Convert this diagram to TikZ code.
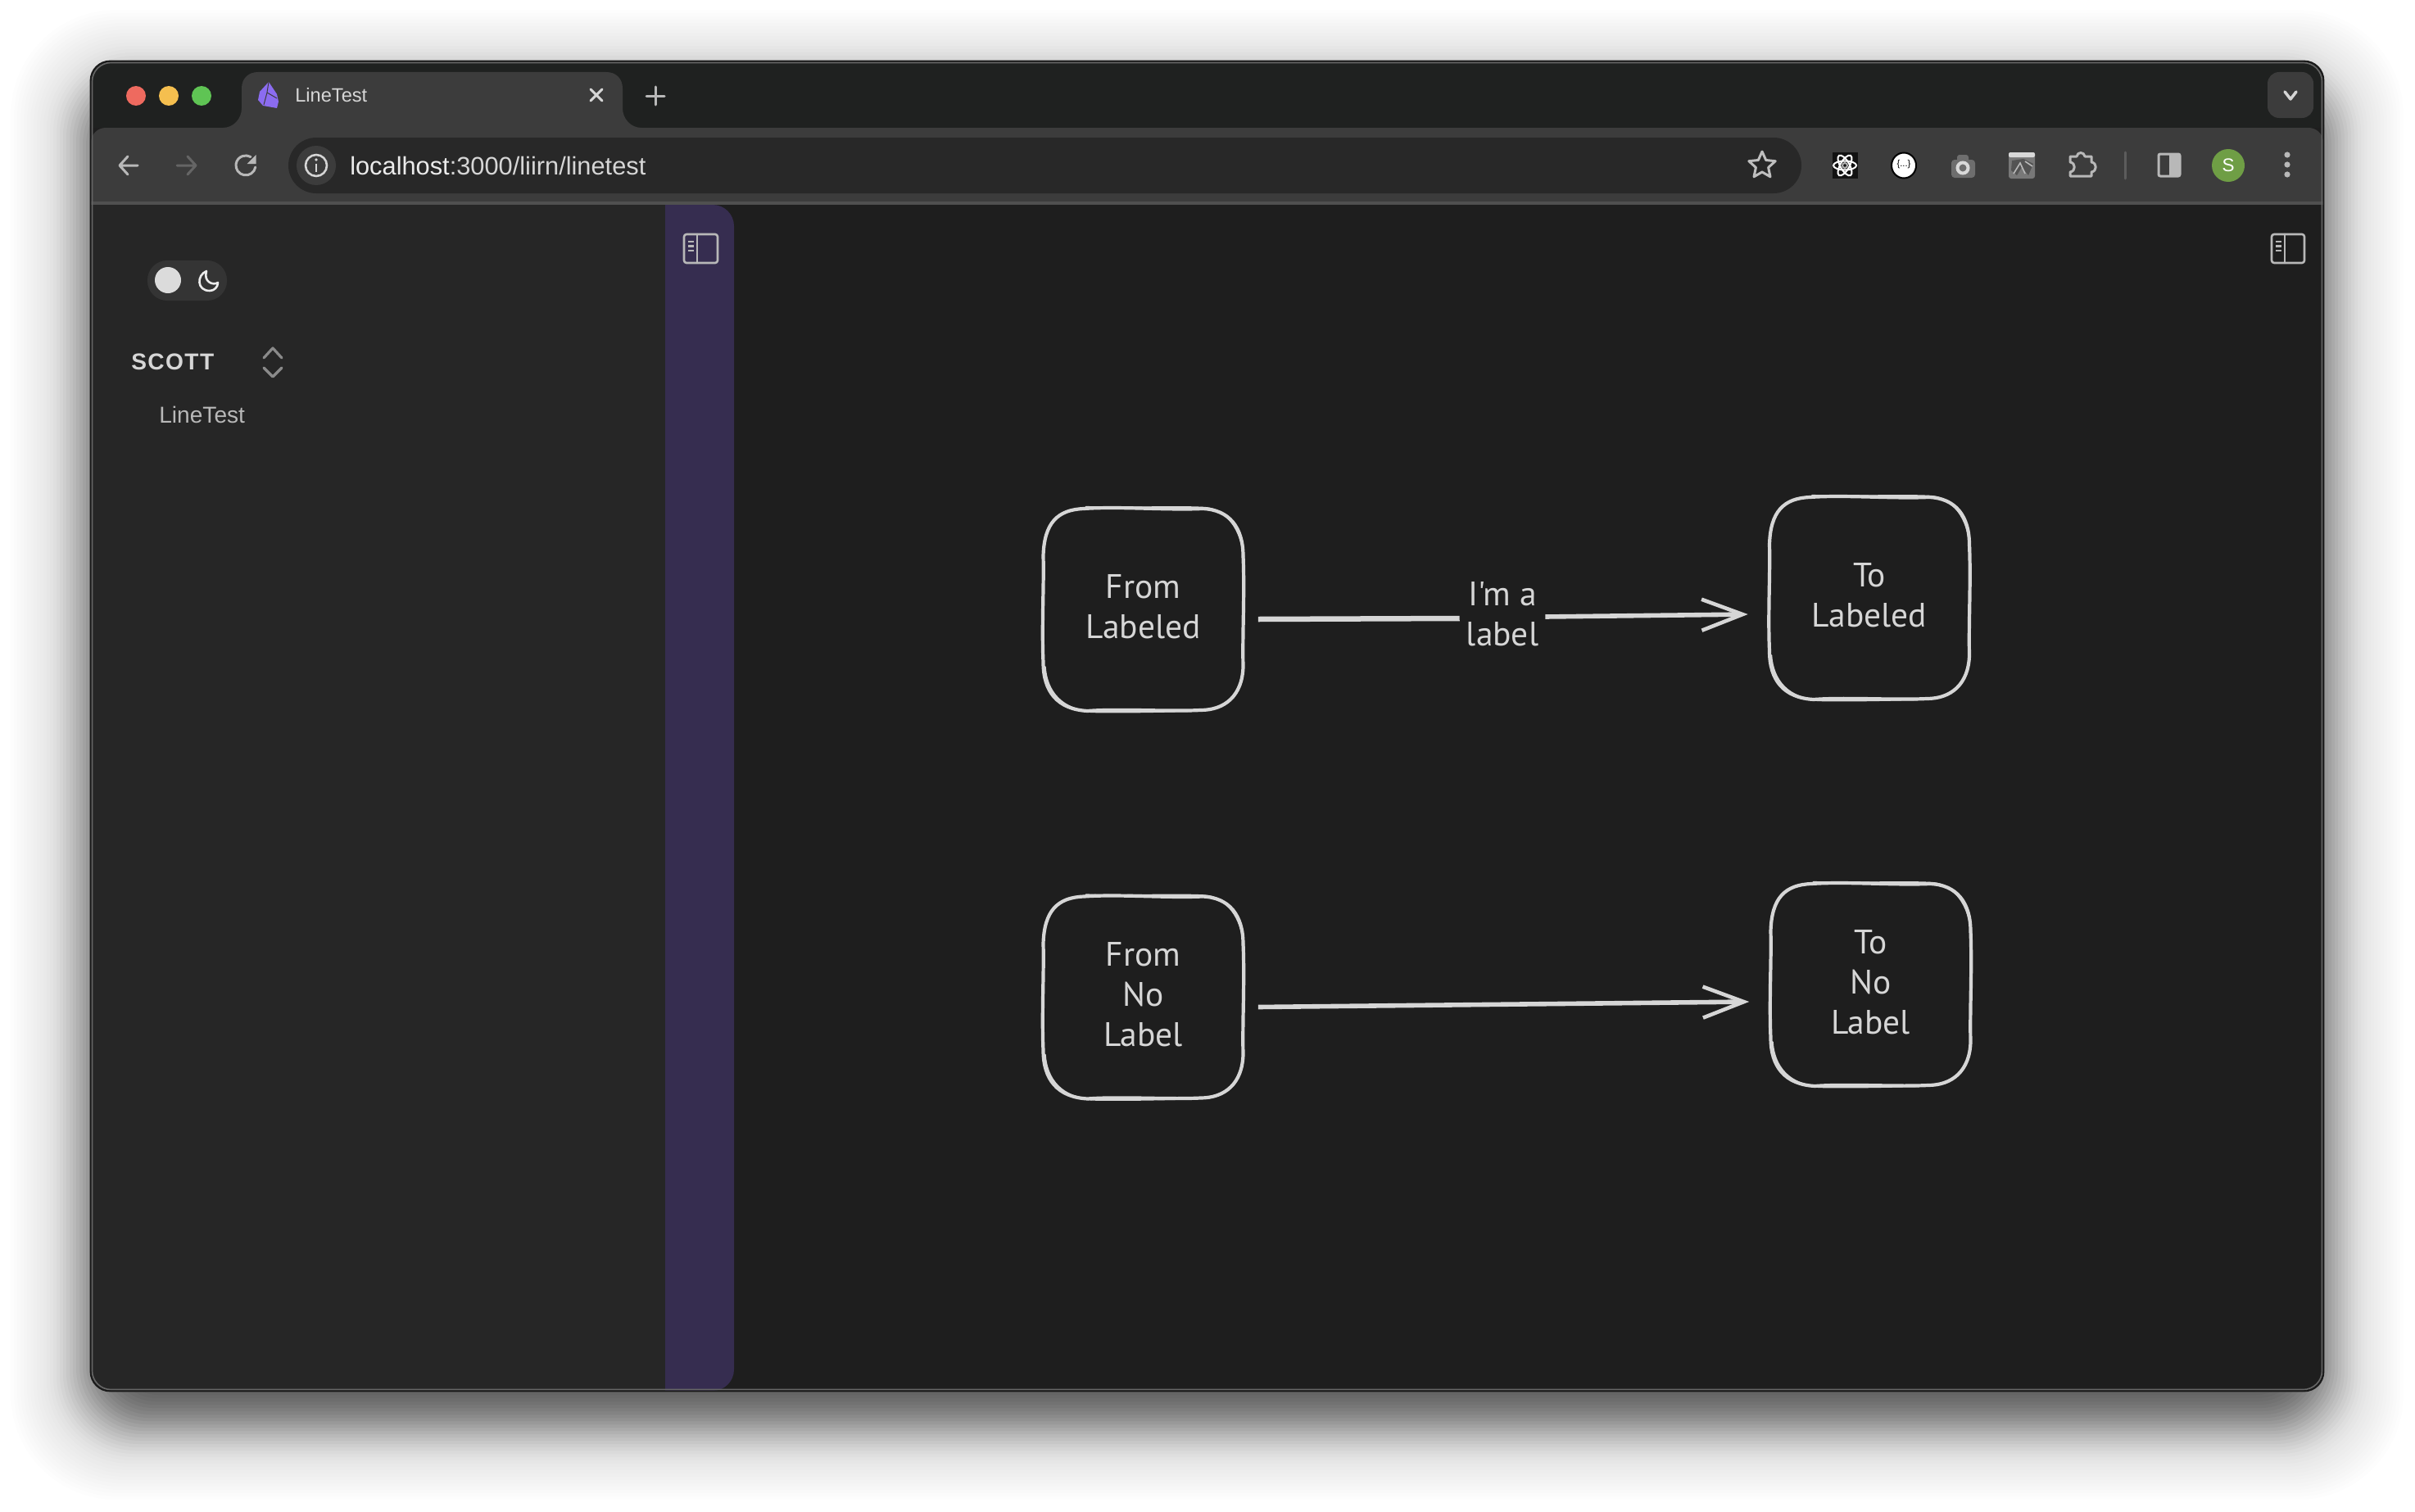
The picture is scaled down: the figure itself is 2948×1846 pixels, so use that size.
\documentclass[tikz,border=0pt]{standalone}
\usepackage{fontspec}
\setmainfont{Liberation Sans}
\newfontfamily\handfont{PT Sans}
\usetikzlibrary{arrows.meta,calc}
\definecolor{chromeTop}{HTML}{1F2120}
\definecolor{chromeBar}{HTML}{3C3C3C}
\definecolor{omni}{HTML}{282828}
\definecolor{sideBg}{HTML}{262626}
\definecolor{purpleBar}{HTML}{362D50}
\definecolor{mainBg}{HTML}{1E1E1E}
\definecolor{ink}{HTML}{D6D6D6}
\definecolor{iconGrey}{HTML}{B8B8B8}
\definecolor{redDot}{HTML}{EE6A5F}
\definecolor{yellowDot}{HTML}{F5BF4F}
\definecolor{greenDot}{HTML}{5FC454}
\definecolor{obsidian}{HTML}{8B6CF0}
\definecolor{avatar}{HTML}{6F9E45}
\def\px{0.25mm}
\tikzset{
  handtext/.style={text=ink,align=center,inner sep=0pt,font=\handfont\fontsize{29.5}{34.7}\selectfont},
  sketchnode/.style={handtext,minimum width=246*\px,minimum height=248*\px},
  sketch/.style={draw=ink,line width=4.2*\px,line cap=round,line join=round},
  sketchthin/.style={draw=ink,line width=2.4*\px,line cap=round},
  arrowthick/.style={draw=ink,line width=6.5*\px,line cap=butt},
  headline/.style={draw=ink,line width=5.6*\px,-{Straight Barb[length=50*\px,width=38*\px,line width=4.6*\px]}},
  ui/.style={inner sep=0pt,anchor=west},
  uistroke/.style={draw=iconGrey,line width=3*\px,line cap=round,line join=round},
}
\newcommand{\sketchoutline}[1]{%
  \begin{scope}[shift={($(#1.center)+(0,3)$)}]
    \draw[sketch] (-72,-123) .. controls (-30,-126) and (30,-121) .. (72,-123)
      .. controls (105,-122) and (122,-100) .. (122,-65)
      .. controls (124,-20) and (121,30) .. (122,70)
      .. controls (121,105) and (100,123) .. (70,123)
      .. controls (30,125) and (-30,121) .. (-68,124)
      .. controls (-105,122) and (-122,100) .. (-122,65)
      .. controls (-124,20) and (-121,-30) .. (-122,-65)
      .. controls (-121,-105) and (-105,-122) .. (-72,-123) -- cycle;
    \draw[sketchthin] (-70,-125) .. controls (-30,-123) and (40,-126) .. (74,-124)
      .. controls (108,-122) and (123,-90) .. (123,-55);
    \draw[sketchthin] (-120,70) .. controls (-118,100) and (-100,124) .. (-60,125)
      .. controls (-20,126) and (40,124) .. (60,124);
  \end{scope}}
\newcommand{\panelicon}[2]{%
  \begin{scope}[shift={(#1,286)}]
    \draw[uistroke,line width=2.6*\px,rounded corners=3*\px] (0,0) rectangle (#2,35);
    \draw[uistroke,line width=2.6*\px] (16,0) -- (16,35);
    \draw[uistroke,line width=2.4*\px,line cap=butt] (5,9) -- (12,9) (5,14.5) -- (12,14.5) (5,20) -- (12,20);
  \end{scope}}
\begin{document}
\begin{tikzpicture}[x=\px,y=-\px]
\useasboundingbox (0,0) rectangle (2948,1846);
\fill[white] (0,0) rectangle (2948,1846);
% soft window shadow
\foreach \g in {98,94,...,-70}{
  \pgfmathsetmacro\shadeop{max(0.006,0.046*exp(-(\g/45)^2))}
  \fill[black,opacity=\shadeop,rounded corners=(70+\g*0.6)*\px] (111-\g,110-\g) rectangle (2836+\g,1733+\g);
}
% window
\begin{scope}
  \clip[rounded corners=24*\px] (111,75) rectangle (2836,1698);
  \fill[mainBg] (111,75) rectangle (2836,1698);
  \fill[chromeTop] (111,75) rectangle (2836,156);
  \fill[chromeBar,rounded corners=18*\px] (111,156) rectangle (2836,270);
  \fill[mainBg] (111,250) rectangle (2836,280);
  \fill[chromeBar!90!white] (111,246) rectangle (2836,250);
  \fill[chromeBar] (272,156) .. controls (285,156) and (295,145) .. (295,132) -- (295,108)
     .. controls (295,96) and (303,88) .. (315,88) -- (740,88) .. controls (752,88) and (760,96) .. (760,108)
     -- (760,132) .. controls (760,145) and (770,156) .. (783,156) -- cycle;
  \fill[purpleBar,rounded corners=26*\px] (780,250) rectangle (896,1698);
  \fill[sideBg] (111,250) rectangle (812,1698);
\end{scope}
\draw[black!60,line width=1.6*\px,rounded corners=23*\px] (112.5,76.5) rectangle (2834.5,1696.5);
\draw[black!90,line width=1.8*\px,rounded corners=24*\px] (110.5,74.5) rectangle (2836.5,1698.5);
% traffic lights
\fill[redDot] (166,117) circle [radius=12];
\fill[yellowDot] (206,117) circle [radius=12];
\fill[greenDot] (246,117) circle [radius=12];
% tab contents
\fill[obsidian] (328,100) -- (338,115) -- (340,124) -- (338,132) -- (321,129) -- (315,122) -- (317,112) -- cycle;
\draw[chromeBar,line width=1*\px] (328,100) -- (326,113) -- (338,120) (326,113) -- (322,128);
\node[ui,text=ink,font=\fontsize{16.8}{20}\selectfont] (tabTitle) at (360,116) {LineTest};
\draw[draw=ink,line width=3*\px,line cap=round] (721,109) -- (735,123) (735,109) -- (721,123);
\draw[draw=iconGrey,line width=3*\px,line cap=round] (789,117) -- (811,117) (800,106) -- (800,128);
% tab list button
\fill[chromeBar,rounded corners=14*\px] (2768,88) rectangle (2824,144);
\draw[draw=ink,line width=3.5*\px,line cap=round,line join=round] (2789,112) -- (2796,121) -- (2803,112);
% toolbar nav
\draw[uistroke,draw=iconGrey] (168,202) -- (146,202) (156,191) -- (146,202) -- (156,213);
\draw[uistroke,draw=iconGrey!55!black] (216,202) -- (239,202) (229,191) -- (239,202) -- (229,213);
\draw[uistroke] (311.8,204) arc[start angle=10,end angle=300,radius=12];
\fill[iconGrey] (312.5,189) -- (312.5,200) -- (301.5,200) -- cycle;
% omnibox
\fill[omni,rounded corners=34*\px] (352,168) rectangle (2199,236);
\fill[chromeBar] (386,202) circle [radius=24];
\draw[draw=ink,line width=2.6*\px] (386,202) circle [radius=13];
\fill[ink] (386,195) circle [radius=1.8];
\draw[draw=ink,line width=2.8*\px] (386,199.5) -- (386,209.5);
\node[ui,font=\fontsize{21.9}{25}\selectfont] (urlText) at (427,202) {\textcolor{white!92!black}{localhost}\textcolor{ink}{:3000/liirn/linetest}};
% star
\draw[uistroke,draw=iconGrey!90!white] (2151,185) -- (2155.7,195.5) -- (2167.2,196.7) -- (2158.6,204.5) -- (2161,215.8) -- (2151,210) -- (2141,215.8) -- (2143.4,204.5) -- (2134.8,196.7) -- (2146.3,195.5) -- cycle;
% react icon
\fill[black!70!chromeBar] (2237,186) rectangle (2268,218);
\foreach \r in {0,60,120}{
  \draw[draw=white,line width=2*\px,rotate around={\r:(2252,202)}] (2252,202) ellipse [x radius=14,y radius=5.5];
}
\draw[draw=white!70!black,line width=2*\px] (2252,202) circle [radius=3];
% json icon
\fill[white,draw=black,line width=2*\px] (2324,202) ellipse [x radius=15,y radius=15.5];
\node[inner sep=0pt,text=black,font=\fontsize{8}{9}\selectfont] (jsonMark) at (2324,201) {\{...\}};
% camera icon
\fill[black!40!iconGrey,rounded corners=4*\px] (2382,195) rectangle (2411,217);
\fill[black!40!iconGrey,rounded corners=3*\px] (2389,189) rectangle (2403,198);
\draw[draw=white!85!black,line width=4*\px] (2396,205) circle [radius=6.5];
% picture icon
\fill[black!35!iconGrey,rounded corners=3*\px] (2452,186) rectangle (2484,218);
\fill[white!85!black,rounded corners=2*\px] (2452,186) rectangle (2484,192);
\fill[black!55!iconGrey] (2456,196) -- (2470,194) -- (2482,200) -- (2476,214) -- (2468,204) -- (2462,214) -- (2455,208) -- cycle;
\draw[draw=iconGrey,line width=1.6*\px] (2458,212) -- (2466,199) -- (2472,212) (2472,197) -- (2481,203);
% puzzle icon
\draw[uistroke] (2527,191) -- (2535,191) .. controls (2536,185) and (2544,185) .. (2545,191) -- (2553,191) -- (2553,198) .. controls (2560,199) and (2560,209) .. (2553,210) -- (2553,215) -- (2527,215) -- (2527,210) .. controls (2534,209) and (2534,199) .. (2527,198) -- cycle;
% separator
\draw[draw=iconGrey!50!black,line width=3*\px,line cap=round] (2594,186) -- (2594,218);
% side panel icon
\draw[uistroke,rounded corners=2*\px] (2635,188) rectangle (2661,215);
\fill[iconGrey] (2648,188) rectangle (2661,215);
% avatar
\fill[avatar] (2720,202) circle [radius=20];
\node[inner sep=0pt,text=white,font=\fontsize{16}{18}\selectfont] (avatarS) at (2720,202) {S};
% menu dots
\fill[iconGrey] (2792,189) circle [radius=3.6] (2792,201) circle [radius=3.6] (2792,213) circle [radius=3.6];
% sidebar toggle
\fill[black!10!chromeBar!85!sideBg,rounded corners=24*\px] (180,318) rectangle (277,367);
\fill[white!86!black] (205,342) circle [radius=16];
\draw[draw=white!92!black,line width=2.6*\px,line join=round] (252,331) .. controls (240,336) and (240,355) .. (256,355) .. controls (262,355) and (266,350) .. (266,345) .. controls (260,349) and (248,344) .. (252,331) -- cycle;
\node[ui,text=ink,font=\bfseries\fontsize{20}{24}\selectfont] (scott) at (160,442) {\addfontfeatures{LetterSpace=5}SCOTT};
\draw[draw=iconGrey!75!black,line width=3.2*\px,line cap=round,line join=round] (322,437) -- (333,425) -- (344,437) (322,449) -- (333,460) -- (344,449);
\node[ui,text=iconGrey,font=\fontsize{20}{24}\selectfont] (lineTest) at (194,506) {LineTest};
\panelicon{835}{41}
\panelicon{2773}{40}
% sketch diagram
\node[sketchnode] (fromL) at (1395.5,741) {From\\Labeled};
\node[sketchnode] (toL) at (2282,727) {To\\Labeled};
\node[sketchnode] (fromN) at (1395.5,1214.5) {From\\No\\Label};
\node[sketchnode] (toN) at (2283.5,1199) {To\\No\\Label};
\sketchoutline{fromL}
\sketchoutline{toL}
\sketchoutline{fromN}
\sketchoutline{toN}
\node[handtext,minimum width=104*\px,minimum height=100*\px] (edgeLabel) at (1834,750) {I'm a\\label};
\draw[arrowthick] ($(fromL.east)+(17,15)$) -- ($(edgeLabel.west)+(0,5)$);
\draw[headline] ($(edgeLabel.east)+(0,3)$) -- ($(toL.west)+(-25,23)$);
\draw[headline] ($(fromN.east)+(17,15)$) -- ($(toN.west)+(-25,24)$);
\end{tikzpicture}
\end{document}
